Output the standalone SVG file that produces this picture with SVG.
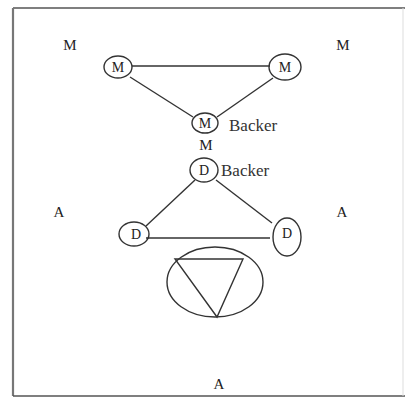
<svg xmlns="http://www.w3.org/2000/svg" width="411" height="398" viewBox="0 0 411 398">
<style>
.n{fill:none;stroke:#333;stroke-width:1.4}
.c{stroke:#333;stroke-width:1.4;fill:none}
.h{stroke:#666;stroke-width:2.2}
.t{font-family:"Liberation Serif",serif;fill:#222;font-size:14px;text-anchor:middle}
.l{font-family:"Liberation Serif",serif;fill:#222;font-size:15px;text-anchor:middle}
.s{font-family:"Liberation Serif",serif;fill:#333;font-size:17px}
</style>
<rect x="0" y="0" width="411" height="398" fill="#fff"/>
<g id="frame">
<line x1="13" y1="8" x2="405" y2="8" stroke="#555" stroke-width="1.5"/>
<line x1="13" y1="8" x2="13" y2="396" stroke="#777" stroke-width="2.2"/>
<line x1="13" y1="396" x2="405" y2="396" stroke="#555" stroke-width="1.5"/>
<line x1="403" y1="8" x2="403" y2="396" stroke="#ddd" stroke-width="1"/>
</g>
<g id="connectors">
<line class="h" x1="132" y1="66" x2="270" y2="66"/>
<line class="c" x1="130" y1="77" x2="193" y2="117"/>
<line class="c" x1="273" y1="78" x2="217" y2="117"/>
<line class="c" x1="195" y1="180" x2="146" y2="226"/>
<line class="c" x1="216" y1="180" x2="272" y2="223"/>
<line class="h" x1="146" y1="238" x2="270" y2="238"/>
</g>
<g id="m1"><ellipse class="n" cx="118" cy="67" rx="14" ry="11"/><text class="t" x="118" y="72">M</text></g>
<g id="m2"><ellipse class="n" cx="285" cy="67" rx="16" ry="13"/><text class="t" x="285" y="72">M</text></g>
<g id="m3"><ellipse class="n" cx="205" cy="123" rx="13" ry="10"/><text class="t" x="205" y="128">M</text><text class="s" x="229" y="131">Backer</text></g>
<g id="mlabel"><text class="l" x="206" y="150">M</text></g>
<g id="d1"><ellipse class="n" cx="204" cy="170" rx="14" ry="12"/><text class="t" x="204" y="175">D</text><text class="s" x="221" y="176">Backer</text></g>
<g id="d2"><ellipse class="n" cx="134" cy="234" rx="15" ry="12"/><text class="t" x="136" y="239">D</text></g>
<g id="d3"><ellipse class="n" cx="287" cy="237" rx="14" ry="19"/><text class="t" x="287" y="238">D</text></g>
<g id="fan"><ellipse class="n" cx="215" cy="282" rx="48" ry="35"/><path class="c" d="M175 259 L243 259 L217 317 Z"/></g>
<g id="labels">
<text class="l" x="70" y="50">M</text>
<text class="l" x="343" y="50">M</text>
<text class="l" x="59" y="217">A</text>
<text class="l" x="342" y="217">A</text>
<text class="l" x="219" y="389">A</text>
</g>
</svg>
